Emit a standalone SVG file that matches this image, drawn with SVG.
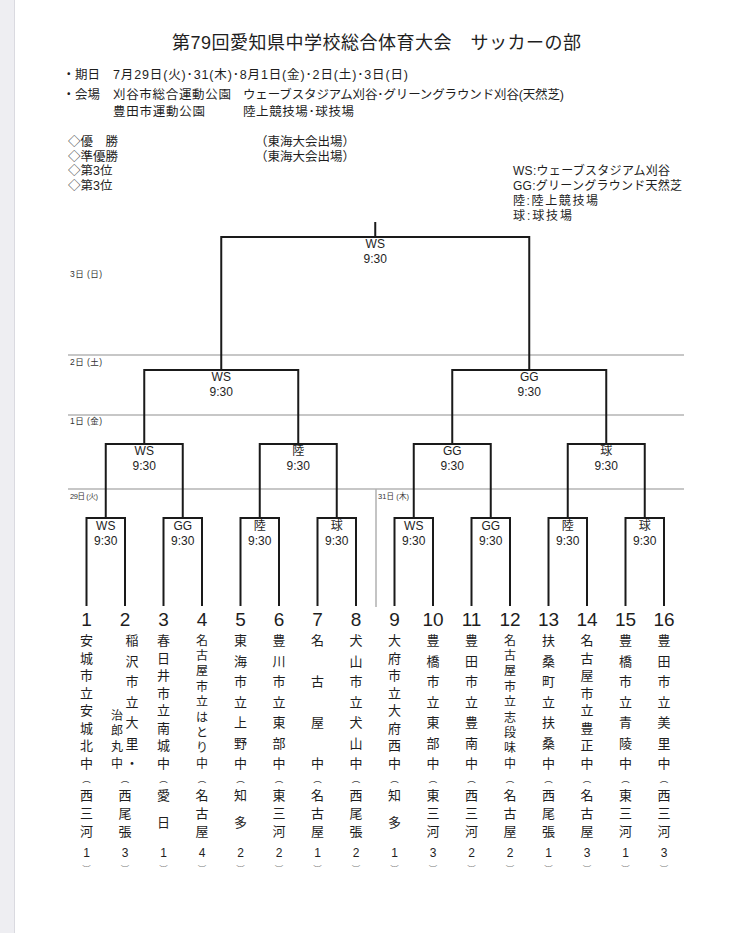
<svg xmlns="http://www.w3.org/2000/svg" width="730" height="933" viewBox="0 0 730 933">
<style>
.t{font-family:"Liberation Sans","Noto Sans CJK JP",sans-serif;fill:#1e1e1e}
.title{font-size:18px}
.hd{font-size:12.5px}
.lg{font-size:12px}
.lb{font-size:12px;text-anchor:middle}
.num{font-size:19px;text-anchor:middle}
.nm{font-family:"Noto Sans CJK JP",sans-serif;font-size:13px;text-anchor:middle;fill:#1e1e1e}
.nm.sm{font-size:12px}
.rd{font-family:"Liberation Sans",sans-serif;font-size:12px;text-anchor:middle;fill:#1e1e1e}
.pr{font-family:"Noto Sans CJK JP",sans-serif;font-size:8.5px;text-anchor:middle;fill:#444}
.dl{font-size:8.5px;fill:#333}
.br{stroke:#1a1a1a;stroke-width:2;fill:none}
.day{stroke:#8f8f8f;stroke-width:1;fill:none}
</style>
<rect x="0" y="0" width="730" height="933" fill="#ffffff"/>
<rect x="0" y="0" width="14" height="933" fill="#eeeef2"/>
<line x1="14.5" y1="0" x2="14.5" y2="933" stroke="#dadae0" stroke-width="1"/>

<g id="header">
<text class="t title" x="172" y="48.5" textLength="409">第79回愛知県中学校総合体育大会　サッカーの部</text>
<text class="t hd" x="62.5" y="79">・期日</text>
<text class="t hd" x="113" y="79" textLength="295">7月29日(火)･31(木)･8月1日(金)･2日(土)･3日(日)</text>
<text class="t hd" x="62.5" y="98.5">・会場</text>
<text class="t hd" x="113" y="98.5" textLength="118">刈谷市総合運動公園</text>
<text class="t hd" x="243" y="98.5" textLength="321">ウェーブスタジアム刈谷･グリーングラウンド刈谷(天然芝)</text>
<text class="t hd" x="113" y="115.5" textLength="92">豊田市運動公園</text>
<text class="t hd" x="243" y="115.5" textLength="111">陸上競技場･球技場</text>
</g>

<g id="results">
<text class="t hd" x="68" y="145.5">◇優　勝</text>
<text class="t hd" x="68" y="160.5">◇準優勝</text>
<text class="t hd" x="68" y="174.5">◇第3位</text>
<text class="t hd" x="68" y="189.5">◇第3位</text>
<text class="t hd" x="255" y="145.5">（東海大会出場）</text>
<text class="t hd" x="255" y="160.5">（東海大会出場）</text>
</g>

<g id="legend">
<text class="t lg" x="513" y="174.5" textLength="157">WS:ウェーブスタジアム刈谷</text>
<text class="t lg" x="513" y="189.5" textLength="169">GG:グリーングラウンド天然芝</text>
<text class="t lg" x="513" y="204.5" textLength="85">陸:陸上競技場</text>
<text class="t lg" x="513" y="219.5" textLength="59">球:球技場</text>
</g>

<g id="days">
<path class="day" d="M68 355H684M68 415H684M68 489H684"/>
<line x1="376" y1="489" x2="376" y2="607" stroke="#b0b0b0" stroke-width="1.5"/>
<text class="t dl" x="70" y="277" textLength="32">3日 (日)</text>
<text class="t dl" x="70" y="365" textLength="32">2日 (土)</text>
<text class="t dl" x="70" y="424" textLength="32">1日 (金)</text>
<text class="t dl" x="70" y="499" textLength="28" style="font-size:7.5px">29日 (火)</text>
<text class="t dl" x="378" y="499" textLength="31" style="font-size:7.5px">31日 (木)</text>
</g>

<g id="connectors">
<path class="br" d="M375.25 222V237M221.25 370V237H529.25V370"/>
<path class="br" d="M144.25 444V370H298.25V444M452.25 444V370H606.25V444"/>
<path class="br" d="M105.75 518V444H182.75V518M259.75 518V444H336.75V518M413.75 518V444H490.75V518M567.75 518V444H644.75V518"/>
<path class="br" d="M86.5 606V518H125V606M163.5 606V518H202V606M240.5 606V518H279V606M317.5 606V518H356V606M394.5 606V518H433V606M471.5 606V518H510V606M548.5 606V518H587V606M625.5 606V518H664V606"/>
</g>

<g id="match-final"><text class="t lb" x="375.25" y="248">WS</text><text class="t lb" x="375.25" y="263">9:30</text></g>
<g id="match-sf1"><text class="t lb" x="221.25" y="381">WS</text><text class="t lb" x="221.25" y="396">9:30</text></g>
<g id="match-sf2"><text class="t lb" x="529.25" y="381">GG</text><text class="t lb" x="529.25" y="396">9:30</text></g>
<g id="match-qf1"><text class="t lb" x="144.25" y="455">WS</text><text class="t lb" x="144.25" y="470">9:30</text></g>
<g id="match-qf2"><text class="t lb" x="298.25" y="455">陸</text><text class="t lb" x="298.25" y="470">9:30</text></g>
<g id="match-qf3"><text class="t lb" x="452.25" y="455">GG</text><text class="t lb" x="452.25" y="470">9:30</text></g>
<g id="match-qf4"><text class="t lb" x="606.25" y="455">球</text><text class="t lb" x="606.25" y="470">9:30</text></g>
<g id="match-r1-1"><text class="t lb" x="105.75" y="530">WS</text><text class="t lb" x="105.75" y="545">9:30</text></g>
<g id="match-r1-2"><text class="t lb" x="182.75" y="530">GG</text><text class="t lb" x="182.75" y="545">9:30</text></g>
<g id="match-r1-3"><text class="t lb" x="259.75" y="530">陸</text><text class="t lb" x="259.75" y="545">9:30</text></g>
<g id="match-r1-4"><text class="t lb" x="336.75" y="530">球</text><text class="t lb" x="336.75" y="545">9:30</text></g>
<g id="match-r1-5"><text class="t lb" x="413.75" y="530">WS</text><text class="t lb" x="413.75" y="545">9:30</text></g>
<g id="match-r1-6"><text class="t lb" x="490.75" y="530">GG</text><text class="t lb" x="490.75" y="545">9:30</text></g>
<g id="match-r1-7"><text class="t lb" x="567.75" y="530">陸</text><text class="t lb" x="567.75" y="545">9:30</text></g>
<g id="match-r1-8"><text class="t lb" x="644.75" y="530">球</text><text class="t lb" x="644.75" y="545">9:30</text></g>

<g id="team-1">
<text class="t num" x="86.5" y="625.5">1</text>
<text class="nm"><tspan x="86.5" y="645">安</tspan><tspan x="86.5" y="662.6">城</tspan><tspan x="86.5" y="680.1">市</tspan><tspan x="86.5" y="697.7">立</tspan><tspan x="86.5" y="715.3">安</tspan><tspan x="86.5" y="732.9">城</tspan><tspan x="86.5" y="750.4">北</tspan><tspan x="86.5" y="768">中</tspan></text>
<text class="pr" x="86.5" y="782.3">︵</text>
<text class="nm"><tspan x="86.5" y="800">西</tspan><tspan x="86.5" y="818">三</tspan><tspan x="86.5" y="836">河</tspan></text>
<text class="rd" x="86.5" y="857">1</text>
<text class="pr" x="86.5" y="872">︶</text>
</g>

<g id="team-2">
<text class="t num" x="125" y="625.5">2</text>
<text class="nm"><tspan x="132" y="645">稲</tspan><tspan x="132" y="665.5">沢</tspan><tspan x="132" y="686">市</tspan><tspan x="132" y="706.5">立</tspan><tspan x="132" y="727">大</tspan><tspan x="132" y="747.5">里</tspan><tspan x="132" y="768">・</tspan></text>
<text class="nm sm"><tspan x="117" y="719.5">治</tspan><tspan x="117" y="735">郎</tspan><tspan x="117" y="751">丸</tspan><tspan x="117" y="768">中</tspan></text>
<text class="pr" x="125" y="782.3">︵</text>
<text class="nm"><tspan x="125" y="800">西</tspan><tspan x="125" y="818">尾</tspan><tspan x="125" y="836">張</tspan></text>
<text class="rd" x="125" y="857">3</text>
<text class="pr" x="125" y="872">︶</text>
</g>

<g id="team-3">
<text class="t num" x="163.5" y="625.5">3</text>
<text class="nm"><tspan x="163.5" y="645">春</tspan><tspan x="163.5" y="662.6">日</tspan><tspan x="163.5" y="680.1">井</tspan><tspan x="163.5" y="697.7">市</tspan><tspan x="163.5" y="715.3">立</tspan><tspan x="163.5" y="732.9">南</tspan><tspan x="163.5" y="750.4">城</tspan><tspan x="163.5" y="768">中</tspan></text>
<text class="pr" x="163.5" y="782.3">︵</text>
<text class="nm"><tspan x="163.5" y="800">愛</tspan><tspan x="163.5" y="827">日</tspan></text>
<text class="rd" x="163.5" y="857">1</text>
<text class="pr" x="163.5" y="872">︶</text>
</g>

<g id="team-4">
<text class="t num" x="202" y="625.5">4</text>
<text class="nm sm"><tspan x="202" y="644.5">名</tspan><tspan x="202" y="660">古</tspan><tspan x="202" y="675.4">屋</tspan><tspan x="202" y="690.8">市</tspan><tspan x="202" y="706.2">立</tspan><tspan x="202" y="721.6">は</tspan><tspan x="202" y="737">と</tspan><tspan x="202" y="752.4">り</tspan><tspan x="202" y="767.8">中</tspan></text>
<text class="pr" x="202" y="782.3">︵</text>
<text class="nm"><tspan x="202" y="800">名</tspan><tspan x="202" y="818">古</tspan><tspan x="202" y="836">屋</tspan></text>
<text class="rd" x="202" y="857">4</text>
<text class="pr" x="202" y="872">︶</text>
</g>

<g id="team-5">
<text class="t num" x="240.5" y="625.5">5</text>
<text class="nm"><tspan x="240.5" y="645">東</tspan><tspan x="240.5" y="665.5">海</tspan><tspan x="240.5" y="686">市</tspan><tspan x="240.5" y="706.5">立</tspan><tspan x="240.5" y="727">上</tspan><tspan x="240.5" y="747.5">野</tspan><tspan x="240.5" y="768">中</tspan></text>
<text class="pr" x="240.5" y="782.3">︵</text>
<text class="nm"><tspan x="240.5" y="800">知</tspan><tspan x="240.5" y="827">多</tspan></text>
<text class="rd" x="240.5" y="857">2</text>
<text class="pr" x="240.5" y="872">︶</text>
</g>

<g id="team-6">
<text class="t num" x="279" y="625.5">6</text>
<text class="nm"><tspan x="279" y="645">豊</tspan><tspan x="279" y="665.5">川</tspan><tspan x="279" y="686">市</tspan><tspan x="279" y="706.5">立</tspan><tspan x="279" y="727">東</tspan><tspan x="279" y="747.5">部</tspan><tspan x="279" y="768">中</tspan></text>
<text class="pr" x="279" y="782.3">︵</text>
<text class="nm"><tspan x="279" y="800">東</tspan><tspan x="279" y="818">三</tspan><tspan x="279" y="836">河</tspan></text>
<text class="rd" x="279" y="857">2</text>
<text class="pr" x="279" y="872">︶</text>
</g>

<g id="team-7">
<text class="t num" x="317.5" y="625.5">7</text>
<text class="nm"><tspan x="317.5" y="645">名</tspan><tspan x="317.5" y="686">古</tspan><tspan x="317.5" y="727">屋</tspan><tspan x="317.5" y="768">中</tspan></text>
<text class="pr" x="317.5" y="782.3">︵</text>
<text class="nm"><tspan x="317.5" y="800">名</tspan><tspan x="317.5" y="818">古</tspan><tspan x="317.5" y="836">屋</tspan></text>
<text class="rd" x="317.5" y="857">1</text>
<text class="pr" x="317.5" y="872">︶</text>
</g>

<g id="team-8">
<text class="t num" x="356" y="625.5">8</text>
<text class="nm"><tspan x="356" y="645">犬</tspan><tspan x="356" y="665.5">山</tspan><tspan x="356" y="686">市</tspan><tspan x="356" y="706.5">立</tspan><tspan x="356" y="727">犬</tspan><tspan x="356" y="747.5">山</tspan><tspan x="356" y="768">中</tspan></text>
<text class="pr" x="356" y="782.3">︵</text>
<text class="nm"><tspan x="356" y="800">西</tspan><tspan x="356" y="818">尾</tspan><tspan x="356" y="836">張</tspan></text>
<text class="rd" x="356" y="857">2</text>
<text class="pr" x="356" y="872">︶</text>
</g>

<g id="team-9">
<text class="t num" x="394.5" y="625.5">9</text>
<text class="nm"><tspan x="394.5" y="645">大</tspan><tspan x="394.5" y="662.6">府</tspan><tspan x="394.5" y="680.1">市</tspan><tspan x="394.5" y="697.7">立</tspan><tspan x="394.5" y="715.3">大</tspan><tspan x="394.5" y="732.9">府</tspan><tspan x="394.5" y="750.4">西</tspan><tspan x="394.5" y="768">中</tspan></text>
<text class="pr" x="394.5" y="782.3">︵</text>
<text class="nm"><tspan x="394.5" y="800">知</tspan><tspan x="394.5" y="827">多</tspan></text>
<text class="rd" x="394.5" y="857">1</text>
<text class="pr" x="394.5" y="872">︶</text>
</g>

<g id="team-10">
<text class="t num" x="433" y="625.5">10</text>
<text class="nm"><tspan x="433" y="645">豊</tspan><tspan x="433" y="665.5">橋</tspan><tspan x="433" y="686">市</tspan><tspan x="433" y="706.5">立</tspan><tspan x="433" y="727">東</tspan><tspan x="433" y="747.5">部</tspan><tspan x="433" y="768">中</tspan></text>
<text class="pr" x="433" y="782.3">︵</text>
<text class="nm"><tspan x="433" y="800">東</tspan><tspan x="433" y="818">三</tspan><tspan x="433" y="836">河</tspan></text>
<text class="rd" x="433" y="857">3</text>
<text class="pr" x="433" y="872">︶</text>
</g>

<g id="team-11">
<text class="t num" x="471.5" y="625.5">11</text>
<text class="nm"><tspan x="471.5" y="645">豊</tspan><tspan x="471.5" y="665.5">田</tspan><tspan x="471.5" y="686">市</tspan><tspan x="471.5" y="706.5">立</tspan><tspan x="471.5" y="727">豊</tspan><tspan x="471.5" y="747.5">南</tspan><tspan x="471.5" y="768">中</tspan></text>
<text class="pr" x="471.5" y="782.3">︵</text>
<text class="nm"><tspan x="471.5" y="800">西</tspan><tspan x="471.5" y="818">三</tspan><tspan x="471.5" y="836">河</tspan></text>
<text class="rd" x="471.5" y="857">2</text>
<text class="pr" x="471.5" y="872">︶</text>
</g>

<g id="team-12">
<text class="t num" x="510" y="625.5">12</text>
<text class="nm sm"><tspan x="510" y="644.5">名</tspan><tspan x="510" y="660">古</tspan><tspan x="510" y="675.4">屋</tspan><tspan x="510" y="690.8">市</tspan><tspan x="510" y="706.2">立</tspan><tspan x="510" y="721.6">志</tspan><tspan x="510" y="737">段</tspan><tspan x="510" y="752.4">味</tspan><tspan x="510" y="767.8">中</tspan></text>
<text class="pr" x="510" y="782.3">︵</text>
<text class="nm"><tspan x="510" y="800">名</tspan><tspan x="510" y="818">古</tspan><tspan x="510" y="836">屋</tspan></text>
<text class="rd" x="510" y="857">2</text>
<text class="pr" x="510" y="872">︶</text>
</g>

<g id="team-13">
<text class="t num" x="548.5" y="625.5">13</text>
<text class="nm"><tspan x="548.5" y="645">扶</tspan><tspan x="548.5" y="665.5">桑</tspan><tspan x="548.5" y="686">町</tspan><tspan x="548.5" y="706.5">立</tspan><tspan x="548.5" y="727">扶</tspan><tspan x="548.5" y="747.5">桑</tspan><tspan x="548.5" y="768">中</tspan></text>
<text class="pr" x="548.5" y="782.3">︵</text>
<text class="nm"><tspan x="548.5" y="800">西</tspan><tspan x="548.5" y="818">尾</tspan><tspan x="548.5" y="836">張</tspan></text>
<text class="rd" x="548.5" y="857">1</text>
<text class="pr" x="548.5" y="872">︶</text>
</g>

<g id="team-14">
<text class="t num" x="587" y="625.5">14</text>
<text class="nm"><tspan x="587" y="645">名</tspan><tspan x="587" y="662.6">古</tspan><tspan x="587" y="680.1">屋</tspan><tspan x="587" y="697.7">市</tspan><tspan x="587" y="715.3">立</tspan><tspan x="587" y="732.9">豊</tspan><tspan x="587" y="750.4">正</tspan><tspan x="587" y="768">中</tspan></text>
<text class="pr" x="587" y="782.3">︵</text>
<text class="nm"><tspan x="587" y="800">名</tspan><tspan x="587" y="818">古</tspan><tspan x="587" y="836">屋</tspan></text>
<text class="rd" x="587" y="857">3</text>
<text class="pr" x="587" y="872">︶</text>
</g>

<g id="team-15">
<text class="t num" x="625.5" y="625.5">15</text>
<text class="nm"><tspan x="625.5" y="645">豊</tspan><tspan x="625.5" y="665.5">橋</tspan><tspan x="625.5" y="686">市</tspan><tspan x="625.5" y="706.5">立</tspan><tspan x="625.5" y="727">青</tspan><tspan x="625.5" y="747.5">陵</tspan><tspan x="625.5" y="768">中</tspan></text>
<text class="pr" x="625.5" y="782.3">︵</text>
<text class="nm"><tspan x="625.5" y="800">東</tspan><tspan x="625.5" y="818">三</tspan><tspan x="625.5" y="836">河</tspan></text>
<text class="rd" x="625.5" y="857">1</text>
<text class="pr" x="625.5" y="872">︶</text>
</g>

<g id="team-16">
<text class="t num" x="664" y="625.5">16</text>
<text class="nm"><tspan x="664" y="645">豊</tspan><tspan x="664" y="665.5">田</tspan><tspan x="664" y="686">市</tspan><tspan x="664" y="706.5">立</tspan><tspan x="664" y="727">美</tspan><tspan x="664" y="747.5">里</tspan><tspan x="664" y="768">中</tspan></text>
<text class="pr" x="664" y="782.3">︵</text>
<text class="nm"><tspan x="664" y="800">西</tspan><tspan x="664" y="818">三</tspan><tspan x="664" y="836">河</tspan></text>
<text class="rd" x="664" y="857">3</text>
<text class="pr" x="664" y="872">︶</text>
</g>
</svg>
